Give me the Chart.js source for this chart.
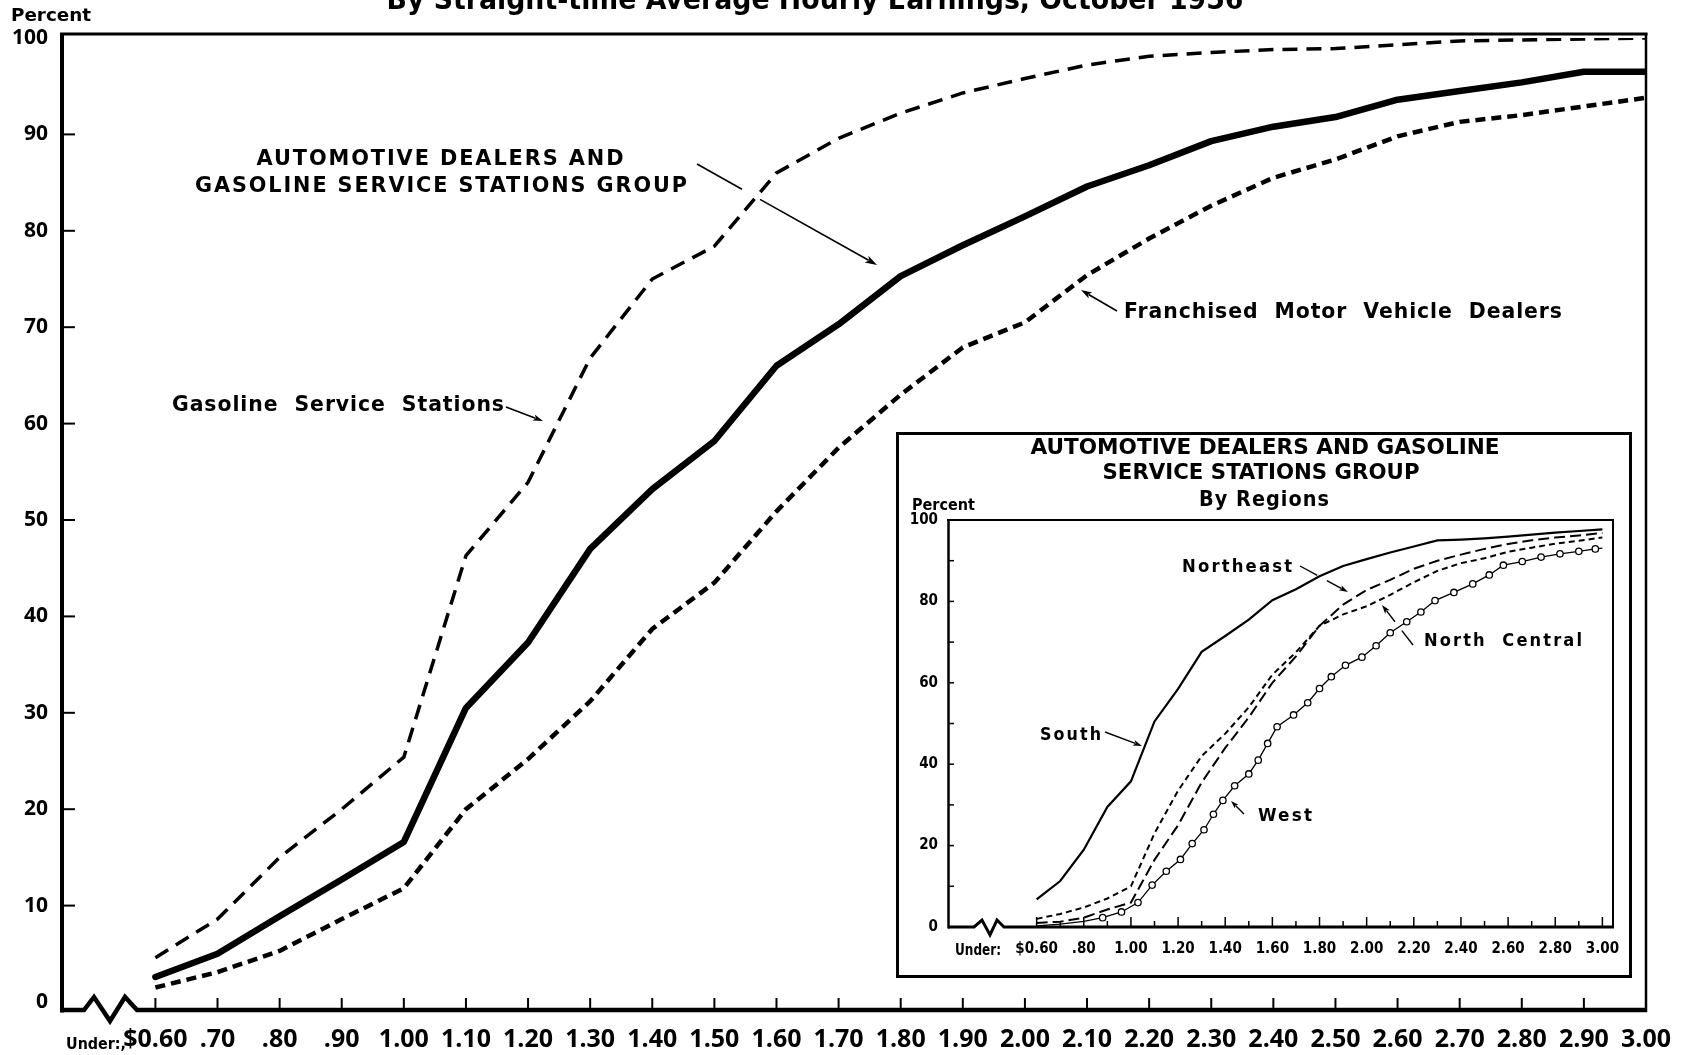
<!DOCTYPE html>
<html>
<head>
<meta charset="utf-8">
<script src="https://cdn.jsdelivr.net/npm/chart.js@4.4.1/dist/chart.umd.min.js"></script>
<style>
  html, body { margin: 0; padding: 0; background: #fff; }
  #wrap { position: relative; width: 1681px; height: 1055px; overflow: hidden; background: #fff; }
  #main { position: absolute; left: 0; top: 0; }
  #inset { position: absolute; left: 896px; top: 432px; }
</style>
</head>
<body>
<div id="wrap">
  <canvas id="main" width="1681" height="1055"></canvas>
  <canvas id="inset" width="736" height="546"></canvas>
</div>
<script>
// ---------------- DATA ----------------
// Hourly earnings classes (upper limits, "Under:" $0.60 ... $3.00)
const wages = [0.60, 0.70, 0.80, 0.90, 1.00, 1.10, 1.20, 1.30, 1.40, 1.50, 1.60, 1.70, 1.80,
               1.90, 2.00, 2.10, 2.20, 2.30, 2.40, 2.50, 2.60, 2.70, 2.80, 2.90, 3.00];
const xTickLabels = ['$0.60', '.70', '.80', '.90', '1.00', '1.10', '1.20', '1.30', '1.40', '1.50',
                     '1.60', '1.70', '1.80', '1.90', '2.00', '2.10', '2.20', '2.30', '2.40', '2.50',
                     '2.60', '2.70', '2.80', '2.90', '3.00'];
const yTicks = [0, 10, 20, 30, 40, 50, 60, 70, 80, 90, 100];

// Main chart: cumulative percent of workers
const groupAll   = [2.6, 5.0, 8.9, 12.7, 16.6, 30.5, 37.3, 47.0, 53.2, 58.2, 66.0, 70.3, 75.3,
                    78.5, 81.5, 84.6, 86.8, 89.3, 90.8, 91.8, 93.6, 94.5, 95.4, 96.5, 96.5];
const gasoline   = [4.6, 8.6, 15.0, 20.0, 25.4, 46.3, 53.9, 66.8, 75.0, 78.4, 86.0, 89.6, 92.2,
                    94.3, 95.8, 97.2, 98.1, 98.5, 98.8, 98.9, 99.3, 99.7, 99.8, 99.9, 100];
const franchised = [1.5, 3.1, 5.3, 8.6, 11.8, 20.0, 25.2, 31.2, 38.7, 43.5, 50.9, 57.5, 63.0,
                    67.9, 70.5, 75.4, 79.2, 82.6, 85.5, 87.4, 89.8, 91.3, 92.0, 92.9, 93.8];

// Inset: by regions
const insetTickLabels = ['$0.60', '', '.80', '', '1.00', '', '1.20', '', '1.40', '', '1.60', '',
                         '1.80', '', '2.00', '', '2.20', '', '2.40', '', '2.60', '', '2.80', '', '3.00'];
const insetYTicks = [0, 10, 20, 30, 40, 50, 60, 70, 80, 90, 100];
const south        = [6.8, 11.3, 19.0, 29.5, 35.8, 50.5, 58.5, 67.6, 71.5, 75.5, 80.3, 83.0, 86.2,
                      88.7, 90.4, 92.0, 93.5, 95.0, 95.2, 95.5, 95.9, 96.4, 96.9, 97.3, 97.7];
const northeast    = [1.0, 1.3, 2.3, 4.3, 6.0, 16.5, 25.0, 35.5, 44.0, 51.5, 60.0, 66.5, 74.0,
                      79.2, 82.8, 85.3, 88.0, 90.0, 91.5, 92.9, 94.1, 95.0, 95.7, 96.2, 96.8];
const northCentral = [2.0, 3.2, 4.8, 7.0, 10.0, 23.0, 33.5, 42.0, 47.5, 54.0, 62.0, 67.5, 74.0,
                      76.8, 78.8, 81.6, 84.7, 87.5, 89.4, 90.6, 92.2, 93.2, 94.2, 94.9, 95.7];
const westX = [0.60, 0.70, 0.80, 0.88, 0.96, 1.03, 1.09, 1.15, 1.21, 1.26, 1.31, 1.35, 1.39, 1.44,
               1.50, 1.54, 1.58, 1.62, 1.69, 1.75, 1.80, 1.85, 1.91, 1.98, 2.04, 2.10, 2.17, 2.23,
               2.29, 2.37, 2.45, 2.52, 2.58, 2.66, 2.74, 2.82, 2.90, 2.97, 3.00];
const westY = [0.3, 0.7, 1.4, 2.3, 3.7, 6.0, 10.3, 13.7, 16.6, 20.5, 23.9, 27.7, 31.1, 34.7,
               37.6, 41.0, 45.1, 49.2, 52.1, 55.1, 58.6, 61.5, 64.3, 66.3, 69.1, 72.3, 75.0, 77.4,
               80.2, 82.2, 84.3, 86.5, 88.9, 89.8, 90.9, 91.7, 92.3, 92.9, 93.1];

// ---------------- HELPERS ----------------
const BOLD_WIDE = "'DejaVu Sans', 'Noto Sans', sans-serif";
const OPEN = "'Open Sans', 'DejaVu Sans', sans-serif";
const NARROW = "'Liberation Sans Narrow', 'DejaVu Sans Condensed', 'Roboto', sans-serif";

function txt(ctx, s, x, y, o) {
  ctx.save();
  ctx.font = (o.weight || 'bold') + ' ' + o.size + 'px ' + o.family;
  const ls = o.ls || 0;
  ctx.letterSpacing = ls + 'px';
  ctx.textBaseline = 'alphabetic';
  ctx.textAlign = 'left';
  const w = ctx.measureText(s).width - ls;
  const tw = o.width || w;
  const k = tw / w;
  let left = x;
  if (o.align === 'center') left = x - tw / 2;
  else if (o.align === 'right') left = x - tw;
  ctx.translate(left, y);
  ctx.scale(k, 1);
  ctx.fillStyle = '#000';
  ctx.fillText(s, 0, 0);
  ctx.restore();
}
function seg(ctx, x1, y1, x2, y2, w) {
  ctx.lineWidth = w;
  ctx.beginPath(); ctx.moveTo(x1, y1); ctx.lineTo(x2, y2); ctx.stroke();
}
function arrow(ctx, x1, y1, x2, y2, gap, lw, head) {
  lw = lw || 1.5; head = head || 10;
  const dx = x2 - x1, dy = y2 - y1, L = Math.hypot(dx, dy);
  const ux = dx / L, uy = dy / L;
  ctx.save();
  ctx.strokeStyle = '#000'; ctx.fillStyle = '#000'; ctx.lineCap = 'butt';
  const ex = x2 - ux * head * 0.8, ey = y2 - uy * head * 0.8;
  if (gap) {
    seg(ctx, x1, y1, x1 + dx * gap[0], y1 + dy * gap[0], lw);
    seg(ctx, x1 + dx * gap[1], y1 + dy * gap[1], ex, ey, lw);
  } else {
    seg(ctx, x1, y1, ex, ey, lw);
  }
  const hw = head * 0.32;
  ctx.beginPath();
  ctx.moveTo(x2, y2);
  ctx.lineTo(x2 - ux * head - uy * hw, y2 - uy * head + ux * hw);
  ctx.lineTo(x2 - ux * head * 0.75, y2 - uy * head * 0.75);
  ctx.lineTo(x2 - ux * head + uy * hw, y2 - uy * head - ux * hw);
  ctx.closePath(); ctx.fill();
  ctx.restore();
}
function noOverhangX(s, h) { s.height = h; s.paddingLeft = 0; s.paddingRight = 0; }
function noOverhangY(s, w) { s.width = w; s.paddingTop = 0; s.paddingBottom = 0; }

// ---------------- MAIN CHART ----------------
const mainDecor = {
  id: 'mainDecor',
  afterDraw(chart) {
    const { ctx, chartArea: a, scales: { x, y } } = chart;
    ctx.save();
    ctx.strokeStyle = '#000'; ctx.fillStyle = '#000';
    const yb = a.bottom + 8;
    // frame
    seg(ctx, a.left - 1, a.top - 4, a.right + 1.5, a.top - 4, 3);
    seg(ctx, a.right, a.top - 5, a.right, yb + 2, 2.5);
    seg(ctx, a.left + 1, a.top - 5, a.left + 1, yb + 2.5, 4);
    // x axis with break
    ctx.lineWidth = 4.5; ctx.lineJoin = 'miter';
    ctx.beginPath();
    ctx.moveTo(a.left, yb); ctx.lineTo(84, yb); ctx.lineTo(94, yb - 13);
    ctx.lineTo(110, yb + 11); ctx.lineTo(125, yb - 13); ctx.lineTo(137, yb);
    ctx.lineTo(a.right + 1, yb); ctx.stroke();
    // ticks
    yTicks.forEach(v => { if (v > 0 && v < 100) { const py = y.getPixelForValue(v); seg(ctx, a.left, py, a.left + 14, py, 2); } });
    wages.forEach(w => { const px = x.getPixelForValue(w); seg(ctx, px, yb, px, yb - 12, 2); });

    // texts
    txt(ctx, 'By Straight-time Average Hourly Earnings, October 1956', 815, 9, { size: 28, family: NARROW, width: 857, align: 'center' });
    txt(ctx, 'Percent', 11, 21, { size: 18, family: BOLD_WIDE, width: 80 });
    txt(ctx, 'Under:,', 66, 1049, { size: 15, family: BOLD_WIDE, width: 60 });
    txt(ctx, 'AUTOMOTIVE DEALERS AND', 440, 165, { size: 22, family: BOLD_WIDE, width: 367, align: 'center', ls: 2, weight: '600' });
    txt(ctx, 'GASOLINE SERVICE STATIONS GROUP', 441, 192, { size: 22, family: BOLD_WIDE, width: 492, align: 'center', ls: 2, weight: '600' });
    txt(ctx, 'Gasoline  Service  Stations', 172, 411, { size: 22, family: BOLD_WIDE, width: 332, ls: 1, weight: '600' });
    txt(ctx, 'Franchised  Motor  Vehicle  Dealers', 1124, 318, { size: 22, family: BOLD_WIDE, width: 438, ls: 1, weight: '600' });

    // arrows
    arrow(ctx, 697, 164, 877, 265, [0.25, 0.35], 1.6, 12);
    arrow(ctx, 506, 407, 543, 421, null, 1.6, 10);
    arrow(ctx, 1117, 311, 1081, 290, null, 1.6, 11);
    ctx.restore();
  }
};

new Chart(document.getElementById('main'), {
  type: 'line',
  data: {
    datasets: [
      { label: 'Automotive Dealers and Gasoline Service Stations Group',
        data: wages.map((w, i) => ({ x: w, y: groupAll[i] })),
        borderColor: '#000', borderWidth: 6.5, borderJoinStyle: 'round', borderCapStyle: 'round' },
      { label: 'Gasoline Service Stations',
        data: wages.map((w, i) => ({ x: w, y: gasoline[i] })),
        borderColor: '#000', borderWidth: 3.5, borderDash: [15, 9] },
      { label: 'Franchised Motor Vehicle Dealers',
        data: wages.map((w, i) => ({ x: w, y: franchised[i] })),
        borderColor: '#000', borderWidth: 4.5, borderDash: [10, 6] }
    ]
  },
  options: {
    responsive: false, animation: false, devicePixelRatio: 1,
    layout: { padding: { top: 38, right: 35, left: 0, bottom: 0 } },
    elements: { point: { radius: 0 }, line: { tension: 0, fill: false } },
    plugins: { legend: { display: false }, tooltip: { enabled: false } },
    scales: {
      x: {
        type: 'linear', min: 0.448, max: 3.0,
        afterBuildTicks: s => { s.ticks = wages.map(v => ({ value: v })); },
        afterFit: s => noOverhangX(s, 53),
        grid: { display: false, drawTicks: false }, border: { display: false },
        ticks: { autoSkip: false, maxRotation: 0, padding: 23, color: '#000',
                 font: { family: OPEN, weight: 'bold', size: 25 },
                 callback: (v, i) => xTickLabels[i] }
      },
      y: {
        type: 'linear', min: 0, max: 100,
        afterBuildTicks: s => { s.ticks = yTicks.map(v => ({ value: v })); },
        afterFit: s => noOverhangY(s, 61),
        grid: { display: false, drawTicks: false }, border: { display: false },
        ticks: { padding: 13, color: '#000', font: { family: OPEN, weight: 'bold', size: 21 } }
      }
    }
  },
  plugins: [mainDecor]
});

// ---------------- INSET CHART ----------------
const insetDecor = {
  id: 'insetDecor',
  beforeDraw(chart) {
    const ctx = chart.ctx;
    ctx.save(); ctx.fillStyle = '#fff'; ctx.fillRect(0, 0, chart.width, chart.height); ctx.restore();
  },
  afterDraw(chart) {
    const { ctx, chartArea: a, scales: { x, y } } = chart;
    ctx.save();
    ctx.strokeStyle = '#000';
    // outer box
    ctx.lineWidth = 3; ctx.strokeRect(1.5, 1.5, chart.width - 3, chart.height - 3);
    // plot frame
    seg(ctx, a.left - 1, a.top, a.right + 1, a.top, 2);
    seg(ctx, a.right, a.top - 1, a.right, a.bottom + 1, 2);
    seg(ctx, a.left + 0.5, a.top - 1, a.left + 0.5, a.bottom + 1.5, 2.5);
    ctx.lineWidth = 3; ctx.lineJoin = 'miter';
    ctx.beginPath();
    ctx.moveTo(a.left, a.bottom); ctx.lineTo(78, a.bottom); ctx.lineTo(86, a.bottom - 7);
    ctx.lineTo(94, a.bottom + 8); ctx.lineTo(101, a.bottom - 7); ctx.lineTo(108, a.bottom);
    ctx.lineTo(a.right + 1, a.bottom); ctx.stroke();
    insetYTicks.forEach(v => { if (v > 0 && v < 100) { const py = y.getPixelForValue(v); seg(ctx, a.left, py, a.left + 6, py, 1.5); } });
    wages.forEach((w, i) => { const px = x.getPixelForValue(w); seg(ctx, px, a.bottom, px, a.bottom - (i % 2 === 0 ? 10 : 6), 1.5); });

    // texts
    txt(ctx, 'AUTOMOTIVE DEALERS AND GASOLINE', 369, 22, { size: 21, family: NARROW, width: 469, align: 'center' });
    txt(ctx, 'SERVICE STATIONS GROUP', 365, 47, { size: 21, family: NARROW, width: 317, align: 'center' });
    txt(ctx, 'By Regions', 368, 74, { size: 21, family: NARROW, width: 130, align: 'center', ls: 1 });
    txt(ctx, 'Percent', 16, 78, { size: 15, family: NARROW, width: 63 });
    txt(ctx, 'Under:', 59, 523, { size: 15, family: NARROW, width: 46 });
    txt(ctx, 'Northeast', 286, 140, { size: 17, family: NARROW, width: 110, ls: 2 });
    txt(ctx, 'North  Central', 528, 214, { size: 17, family: NARROW, width: 158, ls: 2 });
    txt(ctx, 'South', 144, 308, { size: 17, family: NARROW, width: 61, ls: 2 });
    txt(ctx, 'West', 362, 389, { size: 17, family: NARROW, width: 54, ls: 2 });
    // arrows
    arrow(ctx, 404, 134, 452, 160, [0.36, 0.56], 1.4, 9);
    arrow(ctx, 517, 213, 486, 173, [0.36, 0.58], 1.4, 9);
    arrow(ctx, 209, 300, 246, 314, null, 1.4, 9);
    arrow(ctx, 348, 382, 335, 369, null, 1.4, 8);
    ctx.restore();
  }
};

new Chart(document.getElementById('inset'), {
  type: 'line',
  data: {
    datasets: [
      { label: 'South', data: wages.map((w, i) => ({ x: w, y: south[i] })),
        borderColor: '#000', borderWidth: 2.2 },
      { label: 'Northeast', data: wages.map((w, i) => ({ x: w, y: northeast[i] })),
        borderColor: '#000', borderWidth: 2, borderDash: [11, 5] },
      { label: 'North Central', data: wages.map((w, i) => ({ x: w, y: northCentral[i] })),
        borderColor: '#000', borderWidth: 2, borderDash: [6, 4] },
      { label: 'West', data: westX.map((w, i) => ({ x: w, y: westY[i] })),
        borderColor: '#000', borderWidth: 1.3,
        pointRadius: c => (westX[c.dataIndex] < 0.85 || c.dataIndex === westX.length - 1) ? 0 : 3.2,
        pointBackgroundColor: '#fff', pointBorderColor: '#000', pointBorderWidth: 1.3 }
    ]
  },
  options: {
    responsive: false, animation: false, devicePixelRatio: 1,
    layout: { padding: { top: 88, right: 19, left: 0, bottom: 0 } },
    elements: { point: { radius: 0 }, line: { tension: 0, fill: false } },
    plugins: { legend: { display: false }, tooltip: { enabled: false } },
    scales: {
      x: {
        type: 'linear', min: 0.224, max: 3.045,
        afterBuildTicks: s => { s.ticks = wages.map(v => ({ value: v })); },
        afterFit: s => noOverhangX(s, 51),
        grid: { display: false, drawTicks: false }, border: { display: false },
        ticks: { autoSkip: false, maxRotation: 0, padding: 13, color: '#000',
                 font: { family: NARROW, weight: 'bold', size: 15 },
                 callback: (v, i) => insetTickLabels[i] }
      },
      y: {
        type: 'linear', min: 0, max: 100,
        afterBuildTicks: s => { s.ticks = insetYTicks.map(v => ({ value: v })); },
        afterFit: s => noOverhangY(s, 52),
        grid: { display: false, drawTicks: false }, border: { display: false },
        ticks: { padding: 10, color: '#000', font: { family: NARROW, weight: 'bold', size: 15 },
                 callback: v => (v % 20 === 0 ? String(v) : '') }
      }
    }
  },
  plugins: [insetDecor]
});
</script>
</body>
</html>
